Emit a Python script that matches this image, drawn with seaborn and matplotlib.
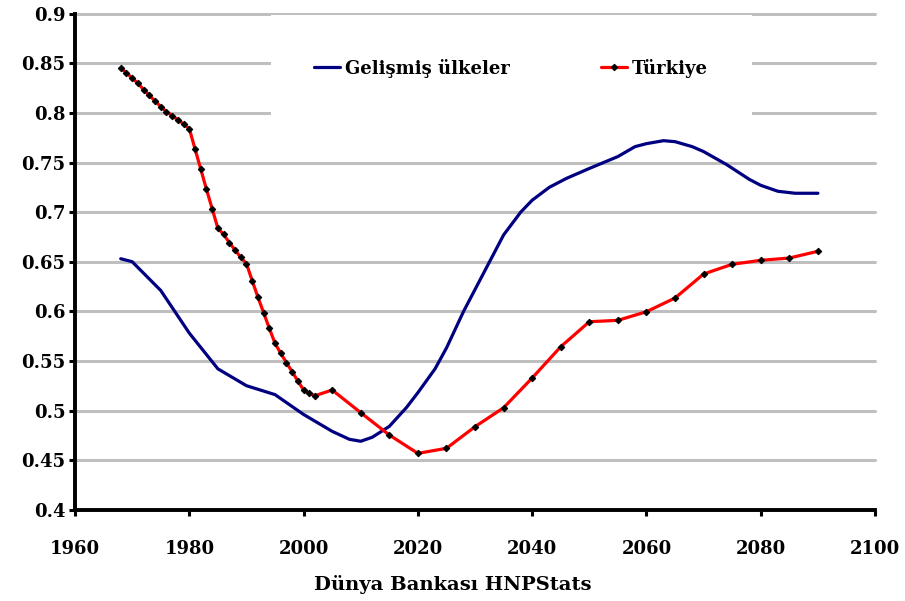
import pandas as pd
import matplotlib
matplotlib.use("Agg")
import matplotlib.pyplot as plt
import seaborn as sns

# Gelişmiş ülkeler
dev_years = [1968, 1970, 1975, 1980, 1985, 1990, 1995, 2000, 2005, 2008, 2010, 2012,
             2015, 2018, 2020, 2023, 2025, 2028, 2030, 2033, 2035, 2038, 2040, 2043,
             2046, 2050, 2055, 2058, 2060, 2063, 2065, 2068, 2070, 2074, 2078, 2080,
             2083, 2086, 2090]
dev_vals = [0.653, 0.650, 0.621, 0.578, 0.542, 0.525, 0.516, 0.496, 0.479, 0.471, 0.469, 0.473,
            0.484, 0.503, 0.518, 0.542, 0.563, 0.600, 0.622, 0.655, 0.677, 0.700, 0.712, 0.725,
            0.734, 0.744, 0.756, 0.766, 0.769, 0.772, 0.771, 0.766, 0.761, 0.748, 0.733, 0.727,
            0.721, 0.719, 0.719]

# Türkiye (markers)
tr_years = list(range(1968, 2003)) + [2005, 2010, 2015, 2020, 2025, 2030, 2035, 2040,
                                      2045, 2050, 2055, 2060, 2065, 2070, 2075, 2080, 2085, 2090]
tr_vals = [0.845, 0.8405, 0.835, 0.830, 0.8234, 0.8177, 0.812, 0.8063, 0.8012, 0.7972,
           0.7931, 0.7888, 0.7841, 0.7636, 0.7434, 0.723, 0.7034, 0.6837, 0.6776, 0.6692,
           0.6618, 0.6544, 0.648, 0.6309, 0.6144, 0.5986, 0.5829, 0.5677, 0.5577, 0.5482,
           0.5391, 0.5297, 0.5207, 0.5173, 0.5149,
           0.5207, 0.4978, 0.4753, 0.4568, 0.4619, 0.4837, 0.5028, 0.5328,
           0.5643, 0.5895, 0.5909, 0.5996, 0.6134, 0.6376, 0.6474, 0.6514, 0.6537, 0.6605]

x_ticks = [1960, 1980, 2000, 2020, 2040, 2060, 2080, 2100]
y_ticks = [0.4, 0.45, 0.5, 0.55, 0.6, 0.65, 0.7, 0.75, 0.8, 0.85, 0.9]
y_labels = ["0.4", "0.45", "0.5", "0.55", "0.6", "0.65", "0.7", "0.75", "0.8", "0.85", "0.9"]

dev = pd.DataFrame({"yil": dev_years, "deger": dev_vals})
tr = pd.DataFrame({"yil": tr_years, "deger": tr_vals})

sns.set_style("white")
plt.rcParams["font.family"] = ["DejaVu Serif"]
plt.rcParams["font.weight"] = "bold"
plt.rcParams["text.color"] = "black"
plt.rcParams["xtick.color"] = "black"
plt.rcParams["ytick.color"] = "black"

fig = plt.figure(figsize=(9.05, 6.01), dpi=100)
ax = fig.add_axes([0.0829, 0.1519, 0.884, 0.8253])

sns.lineplot(data=dev, x="yil", y="deger", ax=ax, color="#000080", lw=2.3,
             estimator=None, label="Gelişmiş ülkeler")
sns.lineplot(data=tr, x="yil", y="deger", ax=ax, color="#FF0000", lw=2.3,
             estimator=None, marker="D", markersize=3.3, markerfacecolor="black",
             markeredgecolor="black", label="Türkiye")

ax.set_xlim(1960, 2100)
ax.set_ylim(0.4, 0.9)
ax.set_xticks(x_ticks)
ax.set_yticks(y_ticks)
ax.set_yticklabels(y_labels)
ax.set_xlabel("")
ax.set_ylabel("")

# grid
ax.set_axisbelow(True)
ax.yaxis.grid(True, color="#BFBFBF", lw=2.2)
ax.xaxis.grid(False)
for gl in ax.get_ygridlines():
    gl.set_clip_on(False)

for s in ["top", "right"]:
    ax.spines[s].set_visible(False)
for s in ["left", "bottom"]:
    ax.spines[s].set_color("black")
    ax.spines[s].set_linewidth(2.8)

ax.tick_params(axis="y", direction="out", length=4, width=2.2, colors="black",
               labelsize=13, pad=3, left=True)
ax.tick_params(axis="x", direction="out", length=4, width=2.2, colors="black",
               labelsize=13, pad=18, bottom=True)
for lab in ax.get_xticklabels() + ax.get_yticklabels():
    lab.set_fontweight("bold")
    lab.set_color("black")

leg = ax.legend(loc="center", bbox_to_anchor=(0.545, 0.8905), ncol=2, frameon=True,
                facecolor="white", edgecolor="none", framealpha=1, fancybox=False,
                borderpad=2.4, handlelength=1.45, handletextpad=0.3,
                columnspacing=5.0, prop={"size": 13, "weight": "bold"})
leg.get_frame().set_linewidth(0)
for t in leg.get_texts():
    t.set_color("black")

fig.text(0.5, 0.027, "Dünya Bankası HNPStats", ha="center", va="center",
         fontsize=14, fontweight="bold", color="black")

fig.savefig("out.png", dpi=100)
